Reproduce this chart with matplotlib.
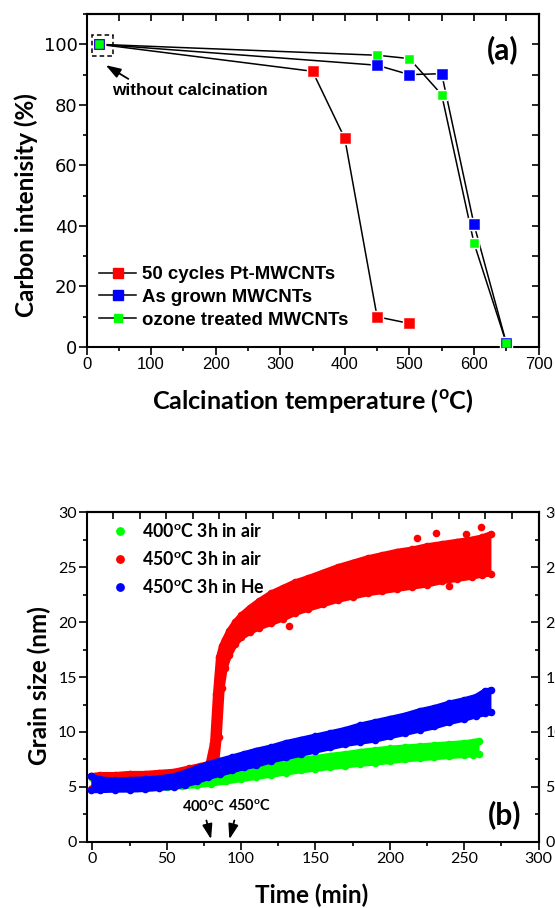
import matplotlib

matplotlib.use("Agg")
import matplotlib.pyplot as plt
from matplotlib.lines import Line2D
from matplotlib.patches import Rectangle
from matplotlib.ticker import MultipleLocator

# (a) intensidad de carbono frente a temperatura de calcinación
temp_pt = [20, 350, 400, 450, 500]
carbon_pt = [100, 91.1, 68.9, 10.0, 7.8]
temp_grown = [20, 450, 500, 550, 600, 650]
carbon_grown = [100, 93.1, 90.0, 90.3, 40.6, 1.4]
temp_ozone = [20, 450, 500, 550, 600, 650]
carbon_ozone = [100, 96.4, 95.3, 83.4, 34.4, 1.4]
labels_a = ["50 cycles Pt-MWCNTs", "As grown MWCNTs", "ozone treated MWCNTs"]

# (b) tamaño de grano: bordes inferior/superior de cada nube de puntos
green_t = [0, 10, 20, 30, 40, 50, 60, 70, 80, 90, 100, 110, 120, 130, 140, 150, 160,
           170, 180, 190, 200, 210, 220, 230, 240, 250, 256, 260]
green_low = [4.9, 4.9, 4.9, 4.95, 5.0, 5.0, 5.05, 5.15, 5.3, 5.5, 5.7, 5.9, 6.1, 6.3,
             6.5, 6.65, 6.8, 6.95, 7.1, 7.2, 7.35, 7.5, 7.6, 7.7, 7.8, 7.9, 7.95, 8.0]
green_high = [5.8, 5.7, 5.7, 5.75, 5.8, 5.85, 5.9, 6.05, 6.25, 6.5, 6.7, 6.9, 7.1, 7.3,
              7.5, 7.65, 7.85, 8.0, 8.2, 8.35, 8.5, 8.6, 8.7, 8.8, 8.9, 9.0, 9.1, 9.2]

red_t = [-1, 5, 15, 25, 35, 45, 55, 65, 72, 78, 81, 83, 85, 87, 89, 92, 96, 100, 106,
         112, 120, 128, 136, 145, 155, 165, 175, 185, 195, 205, 215, 225, 235, 245, 255,
         262, 268]
red_low = [4.8, 5.4, 5.5, 5.5, 5.6, 5.6, 5.7, 5.9, 6.0, 6.2, 6.4, 6.8, 9.5, 14.0, 15.8,
           17.0, 18.0, 18.6, 19.1, 19.5, 19.9, 20.3, 20.8, 21.2, 21.6, 22.0, 22.3, 22.6,
           22.8, 23.0, 23.2, 23.4, 23.7, 23.9, 24.1, 24.3, 24.4]
red_high = [6.0, 6.1, 6.1, 6.2, 6.2, 6.3, 6.4, 6.7, 6.9, 7.1, 9.0, 13.5, 16.8, 17.8, 18.4,
            19.2, 20.0, 20.6, 21.3, 21.9, 22.6, 23.1, 23.6, 24.0, 24.5, 25.0, 25.4, 25.8,
            26.1, 26.4, 26.6, 26.9, 27.1, 27.3, 27.5, 27.7, 28.0]
red_out_t = [132, 218, 231, 240, 251, 261]
red_out_v = [19.6, 27.6, 28.1, 23.3, 28.0, 28.6]

blue_t = [-1, 5, 15, 25, 35, 45, 55, 62, 70, 78, 86, 94, 102, 110, 120, 130, 140, 150,
          160, 170, 180, 190, 200, 210, 220, 230, 240, 250, 258, 264, 268]
blue_low = [4.7, 4.7, 4.75, 4.75, 4.8, 4.9, 5.0, 5.2, 5.5, 5.9, 6.2, 6.5, 6.8, 7.0, 7.4,
            7.7, 8.0, 8.3, 8.6, 8.9, 9.1, 9.3, 9.6, 9.9, 10.2, 10.5, 10.9, 11.2, 11.5,
            11.7, 11.8]
blue_high = [6.0, 5.7, 5.6, 5.65, 5.7, 5.8, 6.0, 6.3, 6.7, 7.1, 7.4, 7.7, 8.0, 8.3, 8.6,
             9.0, 9.3, 9.6, 9.9, 10.2, 10.6, 10.9, 11.2, 11.5, 11.9, 12.2, 12.6, 12.9,
             13.2, 13.7, 13.8]
labels_b = ["400$^{\\mathrm{o}}$C 3h in air", "450$^{\\mathrm{o}}$C 3h in air",
            "450$^{\\mathrm{o}}$C 3h in He"]

ROJO, AZUL, VERDE = "#ff0000", "#0000ff", "#00ff00"
CAL = "Lato"
ARIAL = "Liberation Sans"

plt.rcParams["mathtext.fontset"] = "custom"
plt.rcParams["mathtext.rm"] = "Lato:bold"
plt.rcParams["mathtext.bf"] = "Lato:bold"
plt.rcParams["axes.linewidth"] = 1.5

fig = plt.figure(figsize=(5.55, 9.08), dpi=100)
ax_a = fig.add_axes([0.1559, 0.6178, 0.8144, 0.3667])
ax_b = fig.add_axes([0.1559, 0.0727, 0.8144, 0.3634])

# ---------------- panel (a) ----------------
series_a = [
    (temp_pt, carbon_pt, ROJO, 7.0),
    (temp_grown, carbon_grown, AZUL, 7.5),
    (temp_ozone, carbon_ozone, VERDE, 5.8),
]
for x, y, c, ms in series_a:
    ax_a.plot(x, y, color="black", lw=1.1, zorder=2)
for x, y, c, ms in series_a:  # hueco blanco alrededor de cada símbolo
    ax_a.plot(x, y, ls="none", marker="s", ms=ms + 1.6, mfc="white", mec="white", zorder=3)
for x, y, c, ms in series_a:
    ax_a.plot(x, y, ls="none", marker="s", ms=ms, mfc=c, mec=c, mew=0.4, zorder=4)

ax_a.set_xlim(0, 700)
ax_a.set_ylim(0, 110)
ax_a.set_xticks(range(0, 701, 100), [str(v) for v in range(0, 701, 100)],
                fontfamily=ARIAL, fontsize=12)
ax_a.set_yticks(range(0, 101, 20), [str(v) for v in range(0, 101, 20)],
                fontfamily="DejaVu Sans", fontsize=13)
ax_a.xaxis.set_minor_locator(MultipleLocator(50))
ax_a.yaxis.set_minor_locator(MultipleLocator(10))
ax_a.tick_params(which="major", direction="out", length=5.5, width=1.2, pad=2)
ax_a.tick_params(which="minor", direction="out", length=3, width=1.2)
ax_a.tick_params(axis="y", pad=1)

top_a = ax_a.secondary_xaxis("top")
top_a.xaxis.set_major_locator(MultipleLocator(50))
top_a.tick_params(direction="in", length=5, width=1.2, labeltop=False)
right_a = ax_a.secondary_yaxis("right")
right_a.yaxis.set_major_locator(MultipleLocator(10))
right_a.tick_params(direction="in", length=5, width=1.2, labelright=False)

ax_a.add_patch(Rectangle((8, 96), 33.5, 7, fill=False, ec="black", lw=1.1,
                         ls=(0, (3, 2)), zorder=5))
ax_a.annotate("", xy=(26, 93.6), xytext=(68.4, 88.1),
              arrowprops=dict(arrowstyle="-|>,head_length=0.9,head_width=0.3",
                              color="black", lw=1.3, mutation_scale=10))
ax_a.text(39, 84.8, "without calcination", fontfamily=ARIAL, fontweight="bold",
          fontsize=12.3, va="center", ha="left")
ax_a.text(0.921, 0.892, "(a)", transform=ax_a.transAxes, fontfamily=CAL,
          fontweight="bold", fontsize=21.5, ha="center", va="center")

handles_a = [
    Line2D([], [], color="black", lw=1.1, marker="s", ms=ms, mfc=c, mec=c)
    for _, _, c, ms in series_a
]
ax_a.legend(handles_a, labels_a, loc="center left", bbox_to_anchor=(0.0277, 0.149),
            frameon=False, borderpad=0, borderaxespad=0, handlelength=2.0,
            handletextpad=0.3, labelspacing=0.3,
            prop=dict(family=ARIAL, weight="bold", size=13.4))

fig.text(313 / 555, 1 - 401 / 908, "Calcination temperature ($^{\\mathrm{o}}$C)",
         fontfamily=CAL, fontweight="bold", fontsize=18.2, ha="center", va="center")
fig.text(26 / 555, 1 - 205 / 908, "Carbon intenisity (%)", rotation=90,
         fontfamily=CAL, fontweight="bold", fontsize=17.5, ha="center", va="center")

# ---------------- panel (b) ----------------
series_b = [
    (green_t, green_low, green_high, VERDE),
    (red_t, red_low, red_high, ROJO),
    (blue_t, blue_low, blue_high, AZUL),
]
for k, (t, lo, hi, c) in enumerate(series_b):
    z = 2 + k
    ax_b.fill_between(t, lo, hi, color=c, lw=0, zorder=z)
    for borde in (lo, hi):
        ax_b.plot(t, borde, color=c, lw=4.2, solid_capstyle="round",
                  solid_joinstyle="round", zorder=z)
        ax_b.scatter(t, borde, s=30, color=c, lw=0, zorder=z)
ax_b.scatter(red_out_t, red_out_v, s=30, color=ROJO, lw=0, zorder=3)

ax_b.set_xlim(-4, 300)
ax_b.set_ylim(0, 30)
ax_b.set_xticks(range(0, 301, 50), [str(v) for v in range(0, 301, 50)],
                fontfamily=CAL, fontsize=11.5)
ax_b.set_yticks(range(0, 31, 5), [str(v) for v in range(0, 31, 5)],
                fontfamily=CAL, fontsize=11.5)
ax_b.xaxis.set_minor_locator(MultipleLocator(25))
ax_b.yaxis.set_minor_locator(MultipleLocator(2.5))
ax_b.tick_params(which="major", direction="out", length=5.5, width=1.2, pad=1.5)
ax_b.tick_params(which="minor", direction="out", length=3, width=1.2)

top_b = ax_b.secondary_xaxis("top", functions=(lambda t: (t + 4) * 17 / 304,
                                               lambda u: u * 304 / 17 - 4))
top_b.set_xticks(range(0, 18))
top_b.tick_params(direction="in", length=5, width=1.2, labeltop=False)
right_b = ax_b.secondary_yaxis("right")
right_b.set_yticks(range(0, 31, 5), [str(v) for v in range(0, 31, 5)],
                   fontfamily=CAL, fontsize=11.5)
right_b.yaxis.set_minor_locator(MultipleLocator(2.5))
right_b.tick_params(which="major", direction="in", length=5.5, width=1.2, pad=5)
right_b.tick_params(which="minor", direction="in", length=3, width=1.2)

arrow_kw = dict(arrowstyle="-|>,head_length=0.9,head_width=0.3", color="black",
                lw=1.3, mutation_scale=10)
ax_b.annotate("", xy=(80.2, 0), xytext=(76.2, 2.2), arrowprops=arrow_kw)
ax_b.annotate("", xy=(91.6, 0), xytext=(95.9, 2.2), arrowprops=arrow_kw)
ax_b.text(74.5, 3.2, "400$^{\\mathrm{o}}$C", fontfamily=CAL, fontweight="bold",
          fontsize=10.5, ha="center", va="center")
ax_b.text(106, 3.25, "450$^{\\mathrm{o}}$C", fontfamily=CAL, fontweight="bold",
          fontsize=10.5, ha="center", va="center")
ax_b.text(0.926, 0.082, "(b)", transform=ax_b.transAxes, fontfamily=CAL,
          fontweight="bold", fontsize=21.5, ha="center", va="center")

handles_b = [Line2D([], [], ls="none", marker="o", ms=5.3, mfc=c, mec=c)
             for _, _, _, c in series_b]
ax_b.legend(handles_b, labels_b, loc="center left", bbox_to_anchor=(0.0553, 0.857),
            frameon=False, borderpad=0, borderaxespad=0, handlelength=1.0,
            handletextpad=0.72, labelspacing=0.55,
            prop=dict(family=CAL, weight="bold", size=12.8))

fig.text(312 / 555, 1 - 895 / 908, "Time (min)", fontfamily=CAL, fontweight="bold",
         fontsize=17.5, ha="center", va="center")
fig.text(39 / 555, 1 - 686 / 908, "Grain size (nm)", rotation=90, fontfamily=CAL,
         fontweight="bold", fontsize=17.5, ha="center", va="center")

fig.savefig("out.png", dpi=100)
plt.close("all")
